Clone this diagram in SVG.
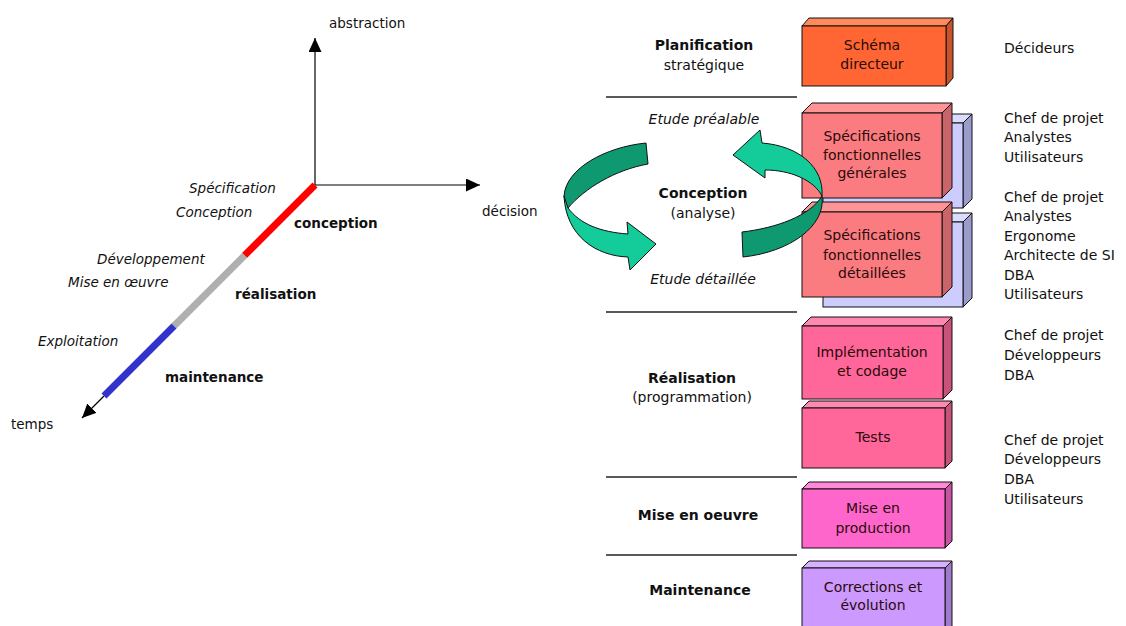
<svg xmlns="http://www.w3.org/2000/svg" width="1126" height="626" viewBox="0 0 1126 626">
<style>
text{font-family:"DejaVu Sans","Liberation Sans",sans-serif;font-size:14px;fill:#111}
.l{font-size:13.5px}
.b{font-weight:bold}
.i{font-style:italic}
.m{text-anchor:middle}
.bt{fill:#2a0a0a;text-anchor:middle}
.ax{stroke:#000;stroke-width:1.2;fill:none}
.sep{stroke:#222;stroke-width:1.3}
.box *{stroke:#111;stroke-width:1}
.box text{stroke:none}
.dk{fill:#0E9970;stroke:#111;stroke-width:1}
.lt{fill:#14CC99;stroke:#111;stroke-width:1}
</style>
<defs>
<marker id="ah" markerUnits="userSpaceOnUse" markerWidth="15" markerHeight="13" refX="14" refY="6.5" orient="auto">
<path d="M0,0 L14,6.5 L0,13 Z" fill="#000"/>
</marker>
</defs>
<rect width="1126" height="626" fill="#fff"/>

<g id="axes">
<line class="ax" x1="315" y1="185" x2="315" y2="38" marker-end="url(#ah)"/>
<line class="ax" x1="315" y1="185" x2="480" y2="185" marker-end="url(#ah)"/>
<line class="ax" x1="104" y1="396" x2="82" y2="418" marker-end="url(#ah)"/>
<line x1="315" y1="185" x2="244.5" y2="255.5" stroke="#FF0000" stroke-width="7"/>
<line x1="244.5" y1="255.5" x2="174" y2="326" stroke="#AFAFAF" stroke-width="7"/>
<line x1="174" y1="326" x2="104" y2="396" stroke="#3333CC" stroke-width="7"/>
<text class="l" x="329" y="28">abstraction</text>
<text class="l" x="482" y="216">décision</text>
<text class="l" x="11" y="429">temps</text>
<text class="l i" x="189" y="193">Spécification</text>
<text class="l i" x="176" y="217">Conception</text>
<text class="l b" x="294" y="228">conception</text>
<text class="l i" x="97" y="264">Développement</text>
<text class="l i" x="68" y="287">Mise en œuvre</text>
<text class="l b" x="235" y="299">réalisation</text>
<text class="l i" x="38" y="346">Exploitation</text>
<text class="l b" x="165" y="382">maintenance</text>
</g>

<g id="phases">
<line class="sep" x1="606" y1="97" x2="797" y2="97"/>
<line class="sep" x1="606" y1="312" x2="797" y2="312"/>
<line class="sep" x1="606" y1="477" x2="797" y2="477"/>
<line class="sep" x1="606" y1="555" x2="797" y2="555"/>
<text class="b m" x="704" y="50">Planification</text>
<text class="m" x="704" y="70">stratégique</text>
<text class="i m" x="704" y="124">Etude préalable</text>
<text class="b m" x="703" y="198">Conception</text>
<text class="m" x="703" y="218">(analyse)</text>
<text class="i m" x="703" y="284">Etude détaillée</text>
<text class="b m" x="692" y="383">Réalisation</text>
<text class="m" x="692" y="402">(programmation)</text>
<text class="b m" x="698" y="520">Mise en oeuvre</text>
<text class="b m" x="700" y="595">Maintenance</text>
</g>

<g id="n-lav1" class="box">
<polygon points="823,123 832,114 972,114 963,123" fill="#DCDCFF"/>
<polygon points="963,123 972,114 972,199 963,208" fill="#9C9CCC"/>
<rect x="823" y="123" width="140" height="85" fill="#CCCCFF"/>
</g>
<g id="n-lav2" class="box">
<polygon points="823,222 832,213 972,213 963,222" fill="#DCDCFF"/>
<polygon points="963,222 972,213 972,298 963,307" fill="#9C9CCC"/>
<rect x="823" y="222" width="140" height="85" fill="#CCCCFF"/>
</g>

<g id="n-schema" class="box">
<polygon points="802,26 809,18 953,18 946,26" fill="#FF8A5C"/>
<polygon points="946,26 953,18 953,78 946,86" fill="#C8532B"/>
<rect x="802" y="26" width="144" height="60" fill="#FF6633"/>
<text class="bt" x="872" y="50">Schéma</text>
<text class="bt" x="872" y="69">directeur</text>
</g>

<g id="n-specgen" class="box">
<polygon points="802,113 812,103 952,103 942,113" fill="#FF9497"/>
<polygon points="942,113 952,103 952,188 942,198" fill="#C8646A"/>
<rect x="802" y="113" width="140" height="85" fill="#FA7C80"/>
<text class="bt" x="872" y="141">Spécifications</text>
<text class="bt" x="872" y="160">fonctionnelles</text>
<text class="bt" x="872" y="178">générales</text>
</g>

<g id="n-specdet" class="box">
<polygon points="802,212 812,202 952,202 942,212" fill="#FF9497"/>
<polygon points="942,212 952,202 952,287 942,297" fill="#C8646A"/>
<rect x="802" y="212" width="140" height="85" fill="#FA7C80"/>
<text class="bt" x="872" y="240">Spécifications</text>
<text class="bt" x="872" y="260">fonctionnelles</text>
<text class="bt" x="872" y="278">détaillées</text>
</g>

<g id="n-impl" class="box">
<polygon points="802,326 811,317 952,317 943,326" fill="#FF88AE"/>
<polygon points="943,326 952,317 952,390 943,399" fill="#C8527A"/>
<rect x="802" y="326" width="141" height="73" fill="#FF6699"/>
<text class="bt" x="872" y="357">Implémentation</text>
<text class="bt" x="872" y="376">et codage</text>
</g>

<g id="n-tests" class="box">
<polygon points="802,408 809,401 952,401 945,408" fill="#FF88AE"/>
<polygon points="945,408 952,401 952,461 945,468" fill="#C8527A"/>
<rect x="802" y="408" width="143" height="60" fill="#FF6699"/>
<text class="bt" x="873" y="442">Tests</text>
</g>

<g id="n-prod" class="box">
<polygon points="802,489 809,482 952,482 945,489" fill="#FF88D8"/>
<polygon points="945,489 952,482 952,541 945,548" fill="#C852A3"/>
<rect x="802" y="489" width="143" height="59" fill="#FF66CC"/>
<text class="bt" x="873" y="513">Mise en</text>
<text class="bt" x="873" y="533">production</text>
</g>

<g id="n-corr" class="box">
<polygon points="802,568 809,561 952,561 945,568" fill="#D8B0FF"/>
<polygon points="945,568 952,561 952,630 945,637" fill="#A07ACC"/>
<rect x="802" y="568" width="143" height="70" fill="#CC99FF"/>
<text class="bt" x="873" y="592">Corrections et</text>
<text class="bt" x="873" y="610">évolution</text>
</g>

<g id="roles">
<text x="1004" y="53">Décideurs</text>
<text x="1004" y="123">Chef de projet</text>
<text x="1004" y="142">Analystes</text>
<text x="1004" y="162">Utilisateurs</text>
<text x="1004" y="202">Chef de projet</text>
<text x="1004" y="221">Analystes</text>
<text x="1004" y="241">Ergonome</text>
<text x="1004" y="260">Architecte de SI</text>
<text x="1004" y="280">DBA</text>
<text x="1004" y="299">Utilisateurs</text>
<text x="1004" y="340">Chef de projet</text>
<text x="1004" y="360">Développeurs</text>
<text x="1004" y="380">DBA</text>
<text x="1004" y="445">Chef de projet</text>
<text x="1004" y="464">Développeurs</text>
<text x="1004" y="484">DBA</text>
<text x="1004" y="504">Utilisateurs</text>
</g>

<g id="connectors">
<path class="dk" d="M646,143 C606,147 566,168 564,196 Q565,204 568,208 C585,188 615,170 648,164 Z"/>
<path class="lt" d="M564,196 C566,236 596,256 628,257 L630,270 L656,244 L627,222 L628,234 C600,232 580,224 568,208 Z"/>
<path class="dk" d="M742,232 C776,228 810,216 822,196 C826,226 790,252 743,257 Z"/>
<path class="lt" d="M822,196 C824,168 800,146 762,143 L760,130 L733,155 L765,178 L765,170 C790,170 814,180 822,196 Z"/>
</g>
</svg>
